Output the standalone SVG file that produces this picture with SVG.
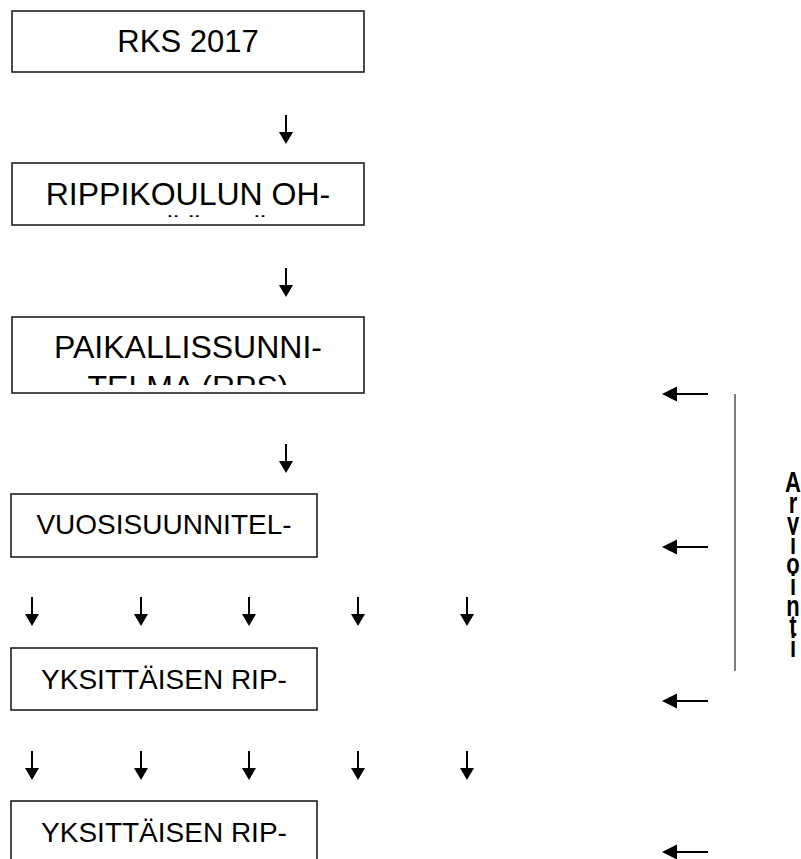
<svg xmlns="http://www.w3.org/2000/svg" xmlns:xlink="http://www.w3.org/1999/xlink" width="801" height="859" viewBox="0 0 801 859">
<style>
.box{fill:#fff;stroke:#111;stroke-width:1.5}
.t{font-family:"Liberation Sans",Arial,sans-serif;font-size:32px;fill:#000;text-anchor:middle}
.s{font-size:28px}
.r{font-size:31px}
.shaft{stroke:#000;stroke-width:2;fill:none}
.head{fill:#000}
.side{font-family:"Liberation Sans",Arial,sans-serif;font-weight:bold;font-size:22px;fill:#000;text-anchor:middle}
</style>
<defs>
<g id="down"><line class="shaft" x1="0" y1="0" x2="0" y2="18"/><polygon class="head" points="-7,17 7,17 0,29"/></g>
<g id="left"><line class="shaft" x1="14" y1="0" x2="46" y2="0"/><polygon class="head" points="0,0 15,-7.5 15,7.5"/></g>
<clipPath id="c2"><rect x="12" y="163" width="352" height="54"/></clipPath>
<clipPath id="c3"><rect x="12" y="317" width="352" height="68"/></clipPath>
</defs>
<rect width="801" height="859" fill="#fff"/>
<g id="n1"><rect class="box" x="12" y="11" width="352" height="61"/><text class="t r" x="188" y="52">RKS 2017</text></g>
<g id="n2"><rect class="box" x="12" y="163" width="352" height="62"/><text class="t" x="188" y="205">RIPPIKOULUN OH-</text><text class="t" x="188" y="242" clip-path="url(#c2)">JESÄÄNTÖ</text></g>
<g id="n3"><rect class="box" x="12" y="317" width="352" height="76"/><text class="t" x="188" y="358">PAIKALLISSUNNI-</text><text class="t" x="188" y="398" clip-path="url(#c3)">TELMA (RPS)</text></g>
<g id="n4"><rect class="box" x="11" y="494" width="306" height="63"/><text class="t s" x="164" y="534">VUOSISUUNNITEL-</text></g>
<g id="n5"><rect class="box" x="11" y="648" width="306" height="62"/><text class="t s" x="164" y="689">YKSITTÄISEN RIP-</text></g>
<g id="n6"><rect class="box" x="11" y="801" width="306" height="75"/><text class="t s" x="164" y="842">YKSITTÄISEN RIP-</text></g>
<g id="connectors">
<use xlink:href="#down" x="286" y="115"/>
<use xlink:href="#down" x="286" y="268"/>
<use xlink:href="#down" x="286" y="444"/>
<use xlink:href="#down" x="32" y="597"/>
<use xlink:href="#down" x="141" y="597"/>
<use xlink:href="#down" x="249" y="597"/>
<use xlink:href="#down" x="358" y="597"/>
<use xlink:href="#down" x="467" y="597"/>
<use xlink:href="#down" x="32" y="751"/>
<use xlink:href="#down" x="141" y="751"/>
<use xlink:href="#down" x="249" y="751"/>
<use xlink:href="#down" x="358" y="751"/>
<use xlink:href="#down" x="467" y="751"/>
<use xlink:href="#left" x="662" y="394"/>
<use xlink:href="#left" x="662" y="547"/>
<use xlink:href="#left" x="662" y="701"/>
<use xlink:href="#left" x="662" y="852"/>
<line x1="735" y1="394" x2="735" y2="671" stroke="#000" stroke-width="1"/>
</g>
<g id="arviointi" transform="translate(793,492) scale(1,1.35)">
<text class="side" x="0" y="0"><tspan x="0" y="0">A</tspan><tspan x="0" dy="15.26">r</tspan><tspan x="0" dy="15.26">v</tspan><tspan x="0" dy="15.26">i</tspan><tspan x="0" dy="15.26">o</tspan><tspan x="0" dy="15.26">i</tspan><tspan x="0" dy="15.26">n</tspan><tspan x="0" dy="15.26">t</tspan><tspan x="0" dy="15.26">i</tspan></text>
</g>
</svg>
